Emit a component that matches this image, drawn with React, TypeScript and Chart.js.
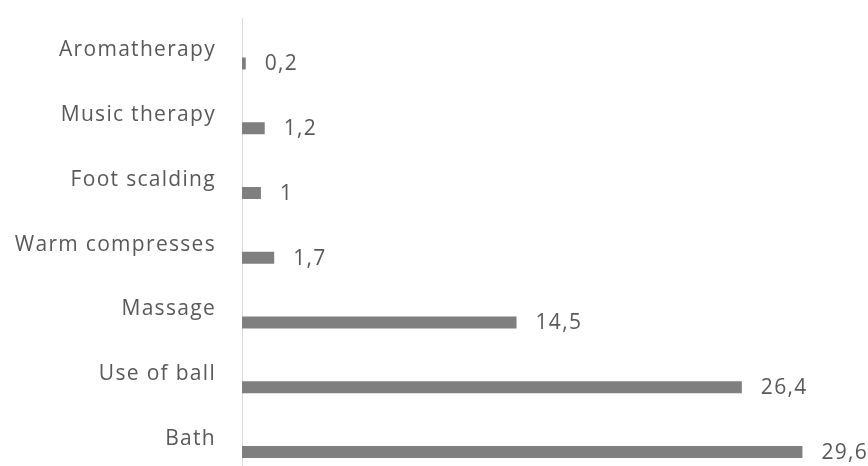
import React, { useEffect, useRef } from "react";
import { Chart, registerables } from "chart.js";

Chart.register(...registerables);

const categories = [
  "Aromatherapy",
  "Music therapy",
  "Foot scalding",
  "Warm compresses",
  "Massage",
  "Use of ball",
  "Bath",
];
const values = [0.2, 1.2, 1, 1.7, 14.5, 26.4, 29.6];
const emptySeries = [null, null, null, null, null, null, null];

const FONT = "'Open Sans', 'DejaVu Sans', sans-serif";
const TEXT = "#595959";
const SPACING = "1.3px";

const spacingPlugin = {
  id: "spacing",
  beforeDraw(chart: any) {
    (chart.ctx as any).letterSpacing = SPACING;
  },
};

const valueLabels = {
  id: "valueLabels",
  afterDatasetsDraw(chart: any) {
    const ctx = chart.ctx;
    const meta = chart.getDatasetMeta(1);
    ctx.save();
    (ctx as any).letterSpacing = SPACING;
    ctx.font = `21px ${FONT}`;
    ctx.fillStyle = TEXT;
    ctx.textAlign = "left";
    ctx.textBaseline = "middle";
    meta.data.forEach((bar: any, i: number) => {
      const v = values[i];
      ctx.fillText(String(v).replace(".", ","), bar.x + 19, bar.y + 1);
    });
    ctx.restore();
  },
};

export default function App() {
  const ref = useRef<HTMLCanvasElement | null>(null);
  useEffect(() => {
    document.documentElement.style.overflow = "hidden";
    const chart = new Chart(ref.current as HTMLCanvasElement, {
      type: "bar",
      data: {
        labels: categories,
        datasets: [
          { label: "empty", data: emptySeries as any, backgroundColor: "#7f7f7f" },
          { label: "Series", data: values, backgroundColor: "#7f7f7f" },
        ],
      },
      options: {
        indexAxis: "y",
        responsive: false,
        animation: false,
        categoryPercentage: 0.806,
        barPercentage: 0.46,
        layout: { padding: { top: 18, right: 58, bottom: 0.75, left: 0 } },
        plugins: { legend: { display: false }, tooltip: { enabled: false } },
        scales: {
          x: { display: false, min: 0, max: 30 },
          y: {
            afterFit(scale: any) {
              scale.width = 242;
              scale.paddingTop = 0;
              scale.paddingBottom = 0;
            },
            grid: { display: false, drawTicks: false },
            border: { display: true, color: "#d9d9d9", width: 1 },
            ticks: {
              padding: 26,
              color: TEXT,
              font: { family: FONT, size: 21 },
            },
          },
        },
      },
      plugins: [spacingPlugin, valueLabels],
    });
    return () => chart.destroy();
  }, []);
  return (
    <div
      style={{
        position: "fixed",
        left: 0,
        top: 0,
        width: 868,
        height: 466,
        overflow: "hidden",
        background: "#fff",
      }}
    >
      <canvas ref={ref} width={868} height={472} style={{ display: "block" }} />
    </div>
  );
}
